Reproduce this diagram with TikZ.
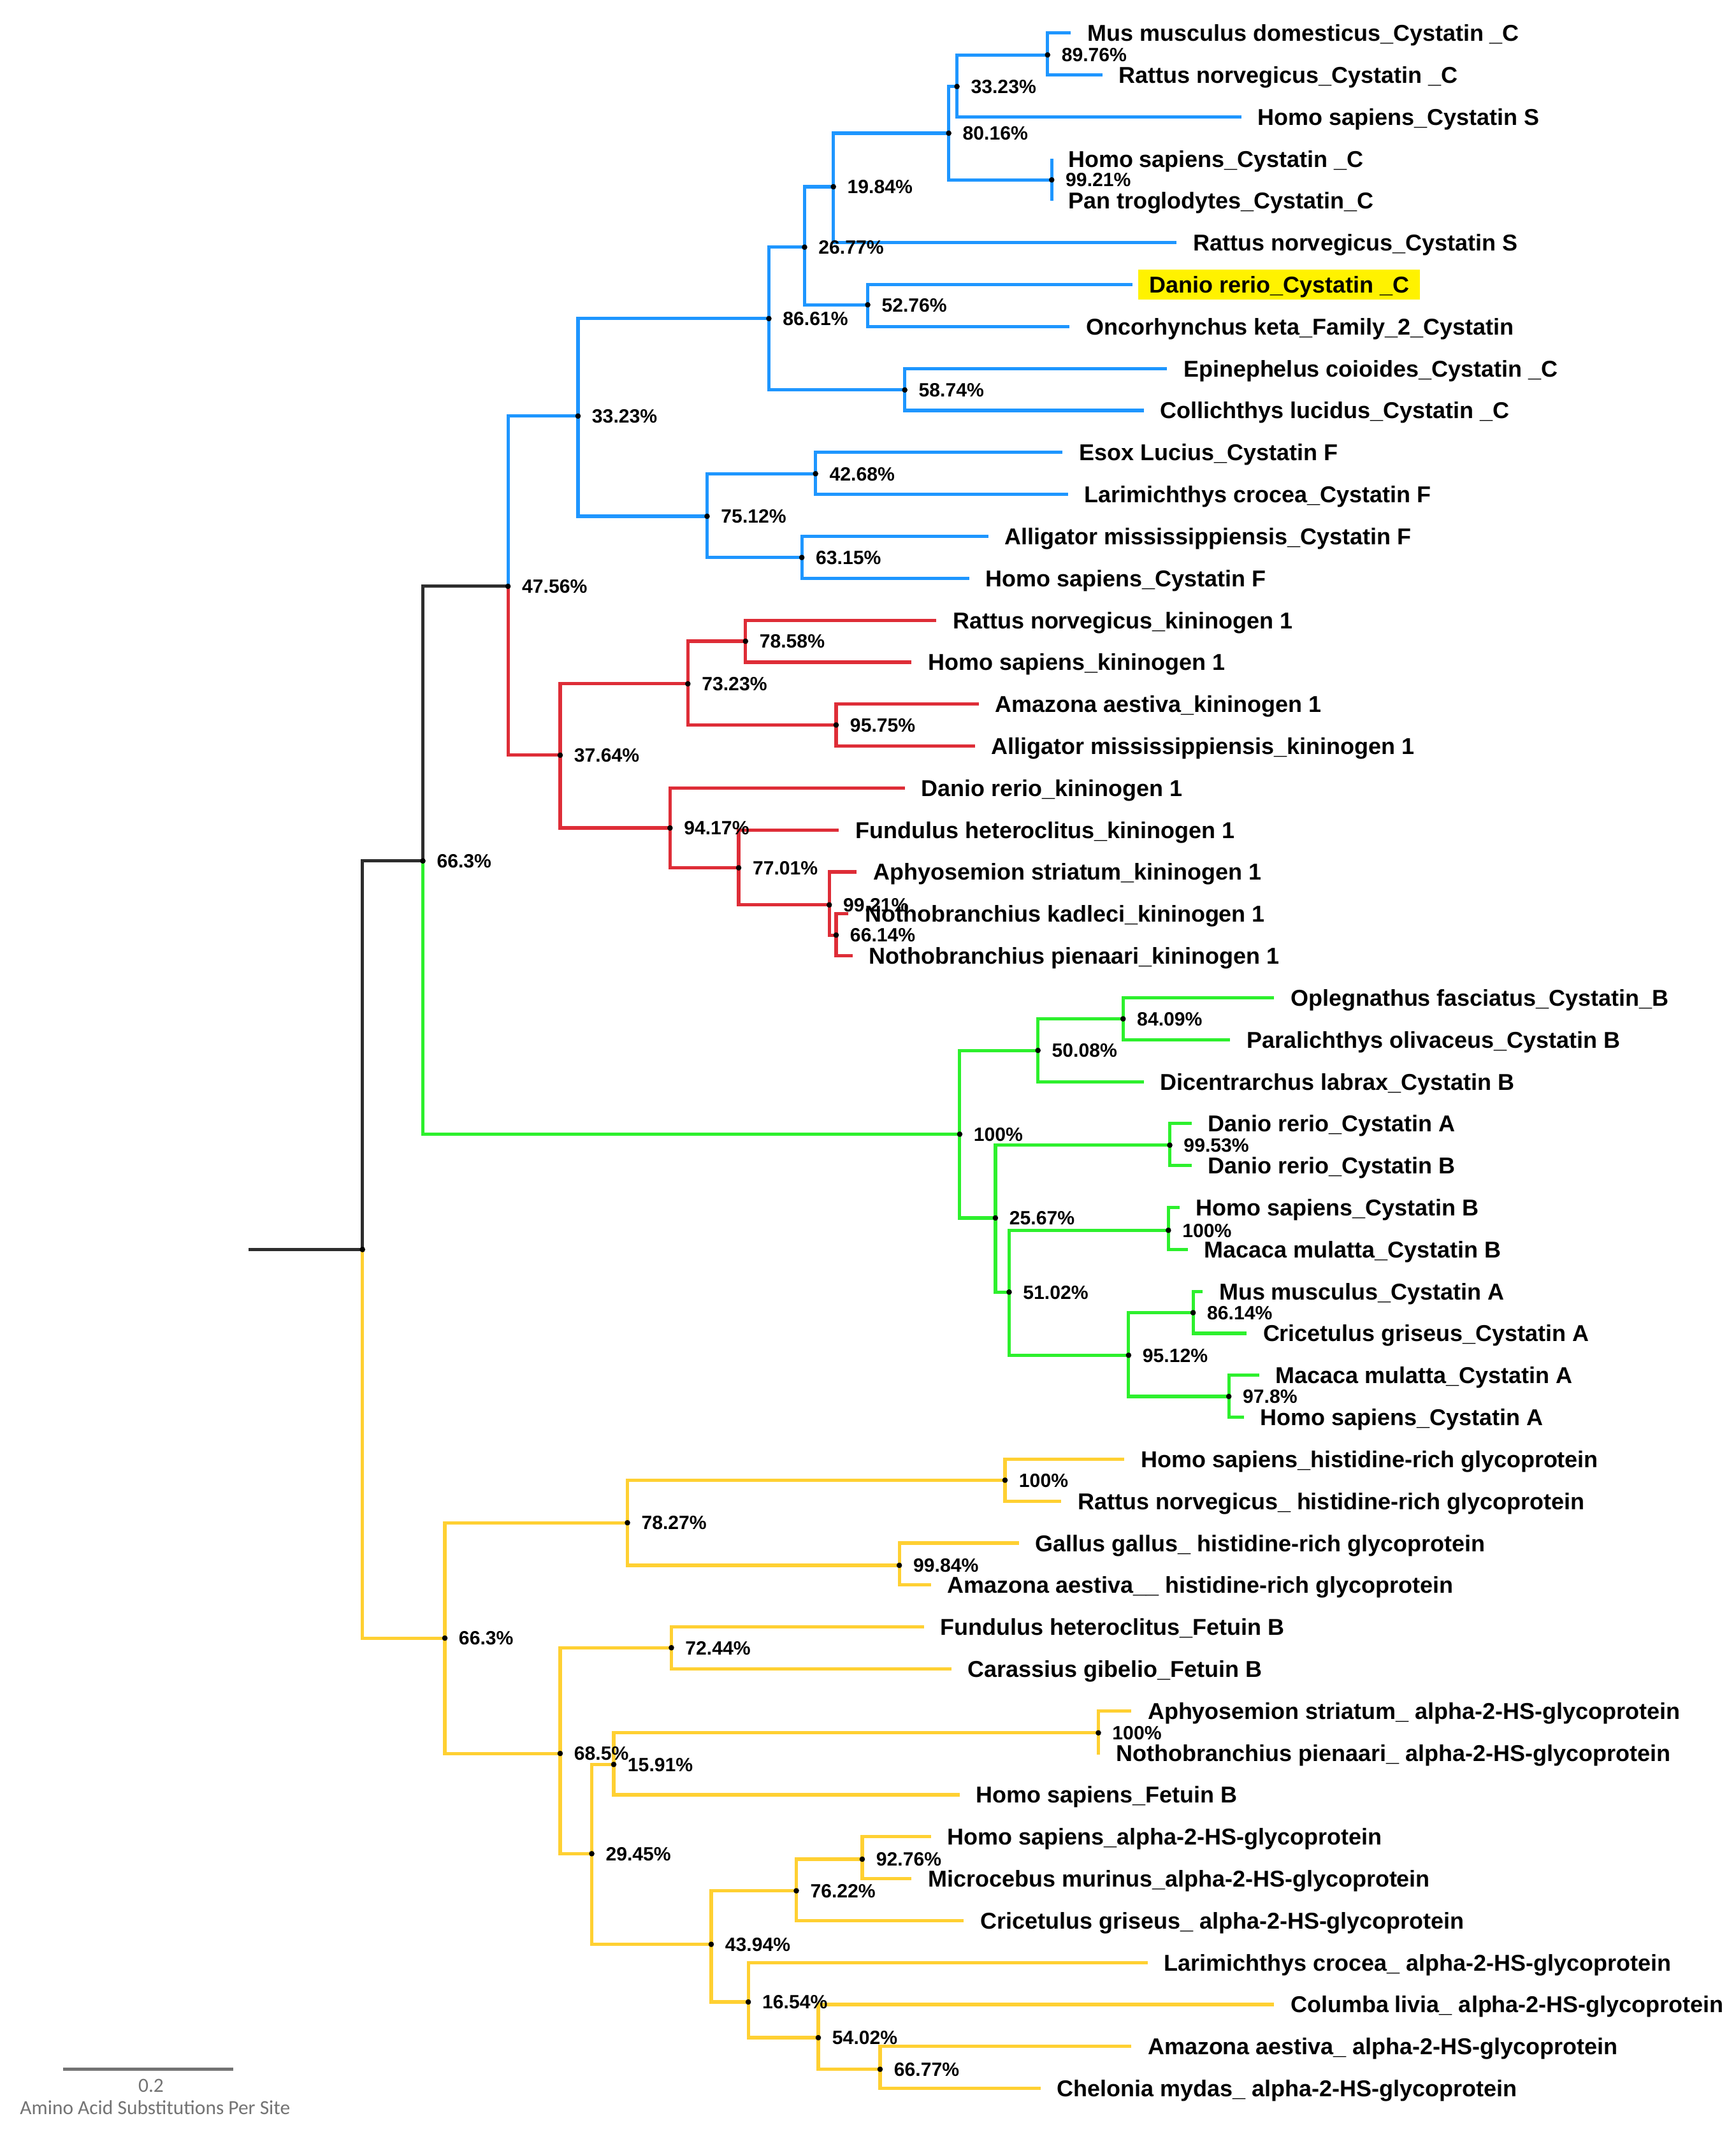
\documentclass[tikz,border=0pt]{standalone}
\usepackage{fontspec}
\setmainfont{Liberation Sans}
\newfontfamily\barfont{Carlito}
\definecolor{cystblue}{RGB}{30,150,255}
\definecolor{kinred}{RGB}{222,45,55}
\definecolor{cystgreen}{RGB}{45,240,45}
\definecolor{fetgold}{RGB}{255,208,50}
\definecolor{rootgray}{RGB}{45,45,45}
\definecolor{bargray}{RGB}{115,115,115}

% internal nodes: name/x/y/support
\def\innernodes{I/763/40/89.76, H/697/63/33.23, G/691/97/80.16, J/766/131/99.21,
  F/607/136/19.84, E/586/180/26.77, K/632/222/52.76, D/560/232/86.61,
  L/659/284/58.74, C/421/303/33.23, N/594/345/42.68, M/515/376/75.12,
  O/584/406/63.15, B/370/427/47.56, R/543/467/78.58, Q/501/498/73.23,
  S/609/528/95.75, P/408/550/37.64, T/488/603/94.17, U/538/632/77.01,
  V/604/659/99.21, W/609/681/66.14, A/308/627/66.3, Z/818/742/84.09,
  Y/756/765/50.08, X/699/826/100, AB/852/834/99.53, AA/725/887/25.67,
  AD/851/896/100, AC/735/941/51.02, AF/869/956/86.14, AE/822/987/95.12,
  AG/895/1017/97.8, AJ/732/1078/100, AI/457/1109/78.27, AK/655/1140/99.84,
  AH/324/1193/66.3, AM/489/1200/72.44, AP/800/1262/100, AL/408/1277/68.5,
  AO/447/1285/15.91, AN/431/1350/29.45, AS/628/1354/92.76, AR/580/1377/76.22,
  AQ/518/1416/43.94, AT/545/1458/16.54, AU/596/1484/54.02, AV/641/1507/66.77}

\tikzset{
  branch/.style={line width=2.4pt},
  bluebranch/.style={branch,draw=cystblue},
  redbranch/.style={branch,draw=kinred},
  greenbranch/.style={branch,draw=cystgreen},
  goldbranch/.style={branch,draw=fetgold},
  rootbranch/.style={branch,draw=rootgray},
  leaf/.style={anchor=west,inner sep=0pt,outer xsep=12pt,
    font=\bfseries\fontsize{16.7}{18}\selectfont,text height=12pt,text depth=0pt},
  pct/.style={anchor=west,inner sep=0pt,xshift=10pt,
    font=\bfseries\fontsize{14}{16}\selectfont,text height=10pt,text depth=0pt},
  bartext/.style={text=bargray,inner sep=0pt,font=\barfont\fontsize{14.6}{16}\selectfont}
}

\begin{document}
\begin{tikzpicture}[x=1pt,y=-1pt]
\useasboundingbox (0,0) rectangle (1264,1568);

% tree nodes
\coordinate (nRoot) at (264,910);
\coordinate (stem) at (181,910);
\foreach \c/\xx/\yy/\pc in \innernodes
  \coordinate (n\c) at (\xx,\yy);

% backbone
\draw[rootbranch] (stem) -- (nRoot);
\draw[rootbranch] (nRoot) |- (nA);
\draw[rootbranch] (nA) |- (nB);
\foreach \p/\c in {nB/nC,nC/nD,nC/nM,nD/nE,nD/nL,nE/nF,nE/nK,nF/nG,nG/nH,nG/nJ,nH/nI,nM/nN,nM/nO}
  \draw[bluebranch] (\p) |- (\c);
\foreach \p/\c in {nB/nP,nP/nQ,nP/nT,nQ/nR,nQ/nS,nT/nU,nU/nV,nV/nW}
  \draw[redbranch] (\p) |- (\c);
\foreach \p/\c in {nA/nX,nX/nY,nX/nAA,nY/nZ,nAA/nAB,nAA/nAC,nAC/nAD,nAC/nAE,nAE/nAF,nAE/nAG}
  \draw[greenbranch] (\p) |- (\c);
\foreach \p/\c in {nRoot/nAH,nAH/nAI,nAH/nAL,nAI/nAJ,nAI/nAK,nAL/nAM,nAL/nAN,nAN/nAO,
    nAN/nAQ,nAO/nAP,nAQ/nAR,nAQ/nAT,nAR/nAS,nAT/nAU,nAU/nAV}
  \draw[goldbranch] (\p) |- (\c);

% leaves
\foreach \i/\up/\xe/\txt [evaluate=\i as \yy using 24+30.55*(\i-1)] in {
    1/nI/780/Mus musculus domesticus\_Cystatin \_C,
    2/nI/803/Rattus norvegicus\_Cystatin \_C,
    3/nH/904/Homo sapiens\_Cystatin S,
    4/nJ/766/Homo sapiens\_Cystatin \_C,
    5/nJ/766/Pan troglodytes\_Cystatin\_C,
    6/nF/857/Rattus norvegicus\_Cystatin S,
    8/nK/779/Oncorhynchus keta\_Family\_2\_Cystatin,
    9/nL/850/Epinephelus coioides\_Cystatin \_C,
    10/nL/833/Collichthys lucidus\_Cystatin \_C,
    11/nN/774/Esox Lucius\_Cystatin F,
    12/nN/778/Larimichthys crocea\_Cystatin F,
    13/nO/720/Alligator mississippiensis\_Cystatin F,
    14/nO/706/Homo sapiens\_Cystatin F}{
  \node[leaf] (l\i) at (\xe,\yy) {\txt};
  \draw[bluebranch] (\up) |- (l\i.west);
}
\node[leaf,fill=yellow,inner xsep=8pt,inner ysep=5pt,outer xsep=4pt] (l7) at (825,207.3) {Danio rerio\_Cystatin \_C};
\draw[bluebranch] (nK) |- (l7.west);

\foreach \i/\up/\xe/\txt [evaluate=\i as \yy using 24+30.55*(\i-1)] in {
    15/nR/682/Rattus norvegicus\_kininogen 1,
    16/nR/664/Homo sapiens\_kininogen 1,
    17/nS/713/Amazona aestiva\_kininogen 1,
    18/nS/710/Alligator mississippiensis\_kininogen 1,
    19/nT/659/Danio rerio\_kininogen 1,
    20/nU/611/Fundulus heteroclitus\_kininogen 1,
    21/nV/624/Aphyosemion striatum\_kininogen 1,
    22/nW/618/Nothobranchius kadleci\_kininogen 1,
    23/nW/621/Nothobranchius pienaari\_kininogen 1}{
  \node[leaf] (l\i) at (\xe,\yy) {\txt};
  \draw[redbranch] (\up) |- (l\i.west);
}

\foreach \i/\up/\xe/\txt [evaluate=\i as \yy using 24+30.55*(\i-1)] in {
    24/nZ/928/Oplegnathus fasciatus\_Cystatin\_B,
    25/nZ/896/Paralichthys olivaceus\_Cystatin B,
    26/nY/833/Dicentrarchus labrax\_Cystatin B,
    27/nAB/868/Danio rerio\_Cystatin A,
    28/nAB/868/Danio rerio\_Cystatin B,
    29/nAD/859/Homo sapiens\_Cystatin B,
    30/nAD/865/Macaca mulatta\_Cystatin B,
    31/nAF/876/Mus musculus\_Cystatin A,
    32/nAF/908/Cricetulus griseus\_Cystatin A,
    33/nAG/917/Macaca mulatta\_Cystatin A,
    34/nAG/906/Homo sapiens\_Cystatin A}{
  \node[leaf] (l\i) at (\xe,\yy) {\txt};
  \draw[greenbranch] (\up) |- (l\i.west);
}

\foreach \i/\up/\xe/\txt [evaluate=\i as \yy using 24+30.55*(\i-1)] in {
    35/nAJ/819/Homo sapiens\_histidine-rich glycoprotein,
    36/nAJ/773/Rattus norvegicus\_ histidine-rich glycoprotein,
    37/nAK/742/Gallus gallus\_ histidine-rich glycoprotein,
    38/nAK/678/Amazona aestiva\_\_ histidine-rich glycoprotein,
    39/nAM/673/Fundulus heteroclitus\_Fetuin B,
    40/nAM/693/Carassius gibelio\_Fetuin B,
    41/nAP/824/Aphyosemion striatum\_ alpha-2-HS-glycoprotein,
    42/nAP/801/Nothobranchius pienaari\_ alpha-2-HS-glycoprotein,
    43/nAO/699/Homo sapiens\_Fetuin B,
    44/nAS/678/Homo sapiens\_alpha-2-HS-glycoprotein,
    45/nAS/664/Microcebus murinus\_alpha-2-HS-glycoprotein,
    46/nAR/702/Cricetulus griseus\_ alpha-2-HS-glycoprotein,
    47/nAT/836/Larimichthys crocea\_ alpha-2-HS-glycoprotein,
    48/nAU/928/Columba livia\_ alpha-2-HS-glycoprotein,
    49/nAV/824/Amazona aestiva\_ alpha-2-HS-glycoprotein,
    50/nAV/758/Chelonia mydas\_ alpha-2-HS-glycoprotein}{
  \node[leaf] (l\i) at (\xe,\yy) {\txt};
  \draw[goldbranch] (\up) |- (l\i.west);
}

% node dots and support values
\fill (nRoot) circle (2);
\foreach \c/\xx/\yy/\pc in \innernodes{
  \fill (n\c) circle (2);
  \node[pct] (p\c) at (n\c) {\pc\%};
}

% scale bar
\coordinate (sbl) at (46,1507);
\coordinate (sbr) at (170,1507);
\draw[bargray,line width=2pt] (sbl) -- (sbr);
\node[bartext] (sbval) at (110,1519) {0.2};
\node[bartext] (sbcap) at (113,1535) {Amino Acid Substitutions Per Site};
\end{tikzpicture}
\end{document}
